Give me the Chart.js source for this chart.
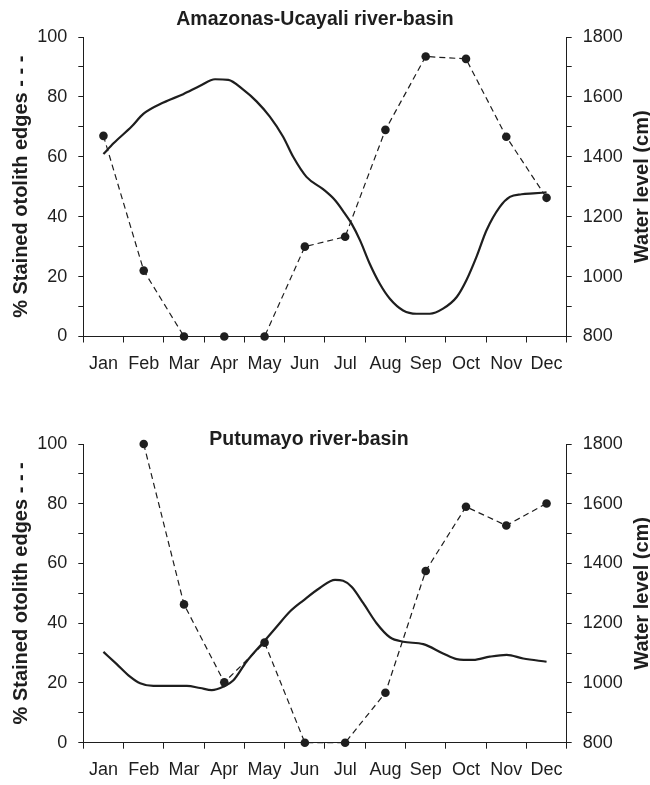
<!DOCTYPE html>
<html>
<head>
<meta charset="utf-8">
<script src="https://cdn.jsdelivr.net/npm/chart.js@4.4.1/dist/chart.umd.min.js"></script>
<style>
  html, body { margin: 0; padding: 0; background: #fff; }
  canvas { display: block; }
</style>
</head>
<body>
<canvas id="amazonas" width="650" height="390"></canvas>
<canvas id="putumayo" width="650" height="395"></canvas>
<script>
// valores
const months = ['Jan', 'Feb', 'Mar', 'Apr', 'May', 'Jun', 'Jul', 'Aug', 'Sep', 'Oct', 'Nov', 'Dec'];
const stainedTicks = [0, 20, 40, 60, 80, 100];
const levelTicks = [800, 1000, 1200, 1400, 1600, 1800];

// % bordes tenidos (linea discontinua)
const amazonasStained = [67, 22, 0, 0, 0, 30, 33.3, 69, 93.5, 92.7, 66.7, 46.3];
const putumayoStained = [null, 100, 46.3, 20.2, 33.5, 0, 0, 16.7, 57.5, 79, 72.7, 80.1];

// nivel del agua (linea continua), x en meses desde el centro de Jan
const amazonasLevelX = [0, 0.25, 0.7, 0.99, 1.49, 1.98, 2.4, 2.77, 3.1, 3.47, 3.8, 4.13, 4.46, 4.71, 5.04,
  5.46, 5.75, 5.99, 6.16, 6.37, 6.61, 6.86, 7.11, 7.44, 7.77, 8.1, 8.43, 8.77, 9.01, 9.26, 9.51, 9.84,
  10.09, 10.38, 10.67, 11];
const amazonasLevelCm = [1409, 1445, 1501, 1543, 1581, 1609, 1637, 1659, 1657, 1624, 1585, 1534, 1467, 1400, 1333,
  1291, 1255, 1211, 1177, 1121, 1043, 976, 926, 887, 876, 876, 893, 932, 988, 1066, 1155, 1233,
  1266, 1275, 1278, 1281];
const putumayoLevelX = [0, 0.33, 0.66, 0.91, 1.24, 1.65, 2.07, 2.4, 2.69, 2.97, 3.22, 3.55, 3.98, 4.3, 4.63, 4.96,
  5.37, 5.75, 5.95, 6.16, 6.45, 6.78, 7.11, 7.44, 7.94, 8.43, 8.77, 9.18, 9.59, 10.01, 10.42, 11];
const putumayoLevelCm = [1104, 1063, 1021, 999, 990, 990, 990, 983, 976, 987, 1008, 1071, 1138, 1188, 1239, 1276,
  1318, 1345, 1342, 1322, 1267, 1200, 1153, 1138, 1130, 1099, 1080, 1077, 1088, 1094, 1082, 1071];

const FONT = "'Liberation Sans', Arial, Helvetica, sans-serif";
const INK = '#1e1e1e';

// titulos dibujados a mano (el titulo derecho se lee de abajo hacia arriba)
const panelText = {
  id: 'panelText',
  afterDraw(chart, args, opts) {
    const { ctx, chartArea } = chart;
    const midY = (chartArea.top + chartArea.bottom) / 2;
    ctx.save();
    ctx.fillStyle = INK;
    ctx.textAlign = 'center';
    ctx.textBaseline = 'middle';
    ctx.font = 'bold 19.5px ' + FONT;
    ctx.fillText(opts.title, opts.titleX, opts.titleY);
    ctx.font = 'bold 20px ' + FONT;
    [[opts.leftX, '% Stained otolith edges - - -'], [opts.rightX, 'Water level (cm)']].forEach(([x, text]) => {
      ctx.save();
      ctx.translate(x, midY);
      ctx.rotate(-Math.PI / 2);
      ctx.fillText(text, 0, 0);
      ctx.restore();
    });
    ctx.restore();
  }
};

function makeChart(id, stained, levelX, levelCm, opts) {
  const levelPoints = levelX.map((x, i) => ({ x: x, y: levelCm[i] }));
  return new Chart(document.getElementById(id), {
    type: 'line',
    data: {
      labels: months,
      datasets: [{
        label: 'Stained',
        data: stained,
        xAxisID: 'x',
        yAxisID: 'y',
        borderColor: INK,
        borderWidth: 1.2,
        borderDash: [6, 4],
        pointRadius: 4.3,
        pointBackgroundColor: INK,
        pointBorderColor: INK,
        pointBorderWidth: 0,
        tension: 0,
        spanGaps: false,
        clip: false
      }, {
        label: 'Water level',
        data: levelPoints,
        xAxisID: 'xw',
        yAxisID: 'y1',
        borderColor: INK,
        borderWidth: 2.2,
        pointRadius: 0,
        cubicInterpolationMode: 'monotone',
        clip: false
      }]
    },
    options: {
      responsive: false,
      animation: false,
      layout: { padding: { top: opts.top, left: 0, right: 0, bottom: 0 } },
      plugins: {
        legend: { display: false },
        tooltip: { enabled: false },
        panelText: {
          title: opts.title,
          titleX: opts.titleX,
          titleY: opts.titleY,
          leftX: 21,
          rightX: 642
        }
      },
      scales: {
        x: {
          type: 'category',
          offset: true,
          afterFit: (scale) => { scale.height = opts.xHeight; },
          grid: { offset: true, drawOnChartArea: false, drawTicks: true, tickLength: 6, color: INK },
          border: { display: true, color: INK, width: 1 },
          ticks: { autoSkip: false, maxRotation: 0, padding: 11, color: INK, font: { family: FONT, size: 18 } }
        },
        xw: {
          type: 'linear',
          display: false,
          min: -0.5,
          max: 11.5
        },
        y: {
          position: 'left',
          min: 0,
          max: 100,
          afterFit: (scale) => { scale.width = 83.3; },
          grid: { drawOnChartArea: false, tickLength: 5, color: INK },
          border: { display: true, color: INK, width: 1 },
          ticks: {
            stepSize: 10,
            padding: 11,
            color: INK,
            font: { family: FONT, size: 18 },
            callback: (v) => stainedTicks.includes(v) ? v : ''
          }
        },
        y1: {
          position: 'right',
          min: 800,
          max: 1800,
          afterFit: (scale) => { scale.width = 83.3; },
          grid: { drawOnChartArea: false, tickLength: 5, color: INK },
          border: { display: true, color: INK, width: 1 },
          ticks: {
            stepSize: 100,
            padding: 11,
            color: INK,
            font: { family: FONT, size: 18 },
            callback: (v) => levelTicks.includes(v) ? v : ''
          }
        }
      }
    },
    plugins: [panelText]
  });
}

makeChart('amazonas', amazonasStained, amazonasLevelX, amazonasLevelCm, {
  title: 'Amazonas-Ucayali river-basin', titleX: 315, titleY: 20, top: 37, xHeight: 53.5
});
makeChart('putumayo', putumayoStained, putumayoLevelX, putumayoLevelCm, {
  title: 'Putumayo river-basin', titleX: 309, titleY: 50, top: 54, xHeight: 42.3
});
</script>
</body>
</html>
